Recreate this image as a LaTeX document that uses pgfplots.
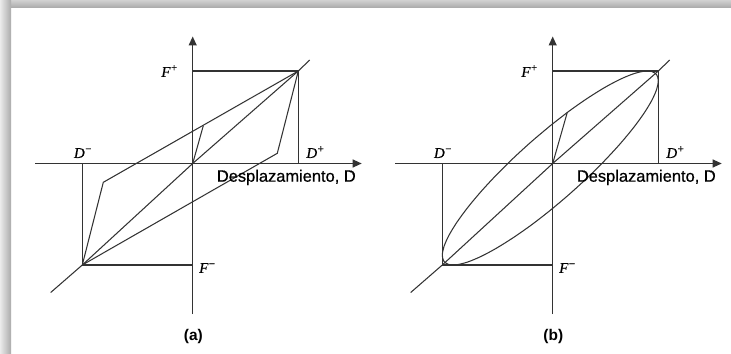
\documentclass[border=0pt]{standalone}
\usepackage{pgfplots}
\pgfplotsset{compat=1.18}
\usepackage{fontspec}
\setmainfont{Liberation Sans}
\newfontfamily\heavysans{Liberation Sans}[FakeBold=0.6]
\newfontfamily\mathlab{Liberation Serif}[FakeBold=0.5]
\usetikzlibrary{arrows.meta}
\definecolor{ln}{gray}{0.2}
\newcommand{\lab}[2]{{\mathlab\itshape #1}\kern0.5pt\raisebox{0.7ex}{\mathlab\fontsize{11}{12}\selectfont #2}}

\pgfplotsset{
  hyst/.style={
    x=1bp, y=1bp,
    xmin=-157.7, xmax=169, ymin=-150.5, ymax=127,
    axis lines=middle, ticks=none, clip=false,
    anchor=south west,
    axis line style={line width=1.2bp, color=ln, -{Triangle[width=8bp,length=9bp]}},
    every axis plot/.append style={line width=1.05bp, color=ln},
  }
}

\begin{document}
\begin{tikzpicture}
\path[use as bounding box] (0,0) rectangle (731bp,354bp);
\fill[white] (0,0) rectangle (731bp,354bp);
\shade[top color=black!18, bottom color=black!33] (0,346.5bp) rectangle (731bp,354bp);
\shade[left color=black!8, right color=black!33] (0,0) rectangle (11bp,354bp);

% ---------- panel (a) ----------
\begin{axis}[hyst, at={(35bp,40bp)}]
\addplot[sharp plot] coordinates {(0,92.5) (105.6,92.5) (105.6,0)};
\addplot[sharp plot] coordinates {(-110.4,0) (-110.4,-101.5) (0,-101.5)};
\addplot[sharp plot] coordinates {(-142,-129) (-110.4,-101.5) (0,0) (105.6,92.5) (117,103.5)};
\addplot[sharp plot] coordinates {(-110.4,-101.5) (-89.4,-18.8) (105.6,92.5) (84.6,10.2) (-110.4,-101.5)};
\addplot[sharp plot] coordinates {(0,0) (10.6,37.8)};
\node[anchor=east, font=\fontsize{15}{18}\selectfont] at (axis cs:-12,92.5) {\lab{F}{+}};
\node[anchor=west, font=\fontsize{15}{18}\selectfont] at (axis cs:3,-104.5) {\lab{F}{−}};
\node[anchor=south, font=\fontsize{15}{18}\selectfont] at (axis cs:-110,2) {\lab{D}{−}};
\node[anchor=south west, inner xsep=0pt, font=\fontsize{15}{18}\selectfont] at (axis cs:113.5,2) {\lab{D}{+}};
\node[anchor=base west, inner sep=0pt, font=\heavysans\fontsize{16.5}{19}\selectfont] at (axis cs:24,-18.2) {Desplazamiento, D};
\node[anchor=base, inner sep=0pt, font=\bfseries\fontsize{15.5}{18}\selectfont] at (axis cs:0.6,-177) {(a)};
\end{axis}

% ---------- panel (b) ----------
\begin{axis}[hyst, at={(395bp,40bp)}]
\addplot[sharp plot] coordinates {(0,92.5) (105.6,92.5) (105.6,0)};
\addplot[sharp plot] coordinates {(-110.4,0) (-110.4,-101.5) (0,-101.5)};
\addplot[sharp plot] coordinates {(-142,-129) (-110.4,-101.5) (0,0) (105.6,92.5) (117,103.5)};
\addplot[smooth] coordinates {
(-2.4,37.78) (-21.15,21.98) (-39.34,5.37) (-56.4,-11.54) (-71.82,-28.23)
(-85.13,-44.2) (-95.93,-58.98) (-103.89,-72.09) (-108.76,-83.14) (-110.4,-91.8)
(-108.76,-97.82) (-103.89,-101.0) (-95.93,-101.24) (-85.13,-98.55) (-71.82,-93.0)
(-56.4,-84.77) (-39.34,-74.08) (-21.15,-61.34) (-2.4,-46.78) (16.35,-30.98)
(34.54,-14.37) (51.6,2.54) (67.02,19.23) (80.33,35.2) (91.13,49.98)
(99.09,63.09) (103.96,74.14) (105.6,82.8) (103.96,88.81) (99.09,92.0)
(91.13,92.24) (80.33,89.55) (67.02,84.0) (51.6,75.77) (34.54,65.08)
(16.35,52.34) (-2.4,37.78)};
\addplot[sharp plot] coordinates {(0,0) (14.5,50.8)};
\node[anchor=east, font=\fontsize{15}{18}\selectfont] at (axis cs:-12,92.5) {\lab{F}{+}};
\node[anchor=west, font=\fontsize{15}{18}\selectfont] at (axis cs:3,-104.5) {\lab{F}{−}};
\node[anchor=south, font=\fontsize{15}{18}\selectfont] at (axis cs:-110,2) {\lab{D}{−}};
\node[anchor=south west, inner xsep=0pt, font=\fontsize{15}{18}\selectfont] at (axis cs:113.5,2) {\lab{D}{+}};
\node[anchor=base west, inner sep=0pt, font=\heavysans\fontsize{16.5}{19}\selectfont] at (axis cs:24,-18.2) {Desplazamiento, D};
\node[anchor=base, inner sep=0pt, font=\bfseries\fontsize{15.5}{18}\selectfont] at (axis cs:0.6,-177) {(b)};
\end{axis}
\end{tikzpicture}
\end{document}
